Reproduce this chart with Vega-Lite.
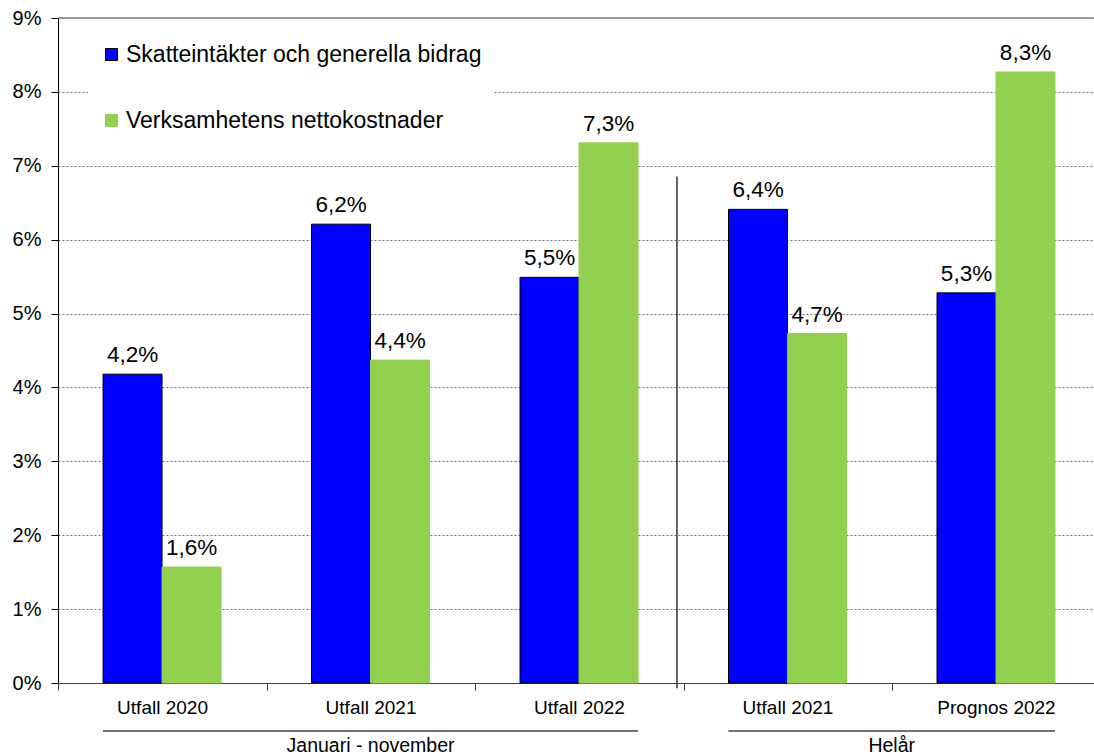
{
  "$schema": "https://vega.github.io/schema/vega-lite/v6.json",
  "width": 1036,
  "height": 665,
  "autosize": {"type": "none"},
  "padding": {"left": 58, "top": 18, "right": 0, "bottom": 73},
  "background": "white",
  "config": {"view": {"stroke": null}, "font": "Liberation Sans"},
  "datasets": {
    "bars": [
      {"cat": "Utfall 2020|jn", "series": "Skatteintäkter och generella bidrag", "value": 4.18, "label": "4,2%"},
      {"cat": "Utfall 2020|jn", "series": "Verksamhetens nettokostnader", "value": 1.57, "label": "1,6%"},
      {"cat": "Utfall 2021|jn", "series": "Skatteintäkter och generella bidrag", "value": 6.21, "label": "6,2%"},
      {"cat": "Utfall 2021|jn", "series": "Verksamhetens nettokostnader", "value": 4.37, "label": "4,4%"},
      {"cat": "Utfall 2022|jn", "series": "Skatteintäkter och generella bidrag", "value": 5.49, "label": "5,5%"},
      {"cat": "Utfall 2022|jn", "series": "Verksamhetens nettokostnader", "value": 7.31, "label": "7,3%"},
      {"cat": "Utfall 2021|h", "series": "Skatteintäkter och generella bidrag", "value": 6.41, "label": "6,4%"},
      {"cat": "Utfall 2021|h", "series": "Verksamhetens nettokostnader", "value": 4.73, "label": "4,7%"},
      {"cat": "Prognos 2022|h", "series": "Skatteintäkter och generella bidrag", "value": 5.28, "label": "5,3%"},
      {"cat": "Prognos 2022|h", "series": "Verksamhetens nettokostnader", "value": 8.27, "label": "8,3%"}
    ],
    "groups": [
      {"group": "Januari - november", "from": "Utfall 2020|jn", "to": "Utfall 2022|jn"},
      {"group": "Helår", "from": "Utfall 2021|h", "to": "Prognos 2022|h"}
    ],
    "sep": [{"at": "Utfall 2022|jn"}]
  },
  "layer": [
    {
      "data": {"name": "bars"},
      "mark": {"type": "bar", "strokeWidth": 1},
      "encoding": {
        "x": {
          "field": "cat", "type": "nominal",
          "scale": {
            "domain": ["Utfall 2020|jn", "Utfall 2021|jn", "Utfall 2022|jn", "Utfall 2021|h", "Prognos 2022|h"],
            "paddingInner": 0.434, "paddingOuter": 0.2015, "align": 0.536, "round": false
          },
          "axis": {
            "title": null, "labelExpr": "split(datum.label, '|')[0]", "labelAngle": 0,
            "tickOffset": -104, "labelOffset": 104, "tickSize": 7, "domainColor": "#404040", "tickColor": "#404040",
            "labelFontSize": 19, "labelColor": "black", "labelPadding": 8, "grid": false,
            "labelFont": "Liberation Sans"
          }
        },
        "xOffset": {
          "field": "series", "type": "nominal",
          "scale": {"domain": ["Skatteintäkter och generella bidrag", "Verksamhetens nettokostnader"], "paddingInner": 0, "paddingOuter": 0}
        },
        "y": {
          "field": "value", "type": "quantitative",
          "scale": {"domain": [0, 9], "nice": false, "zero": true},
          "axis": {
            "values": [0, 1, 2, 3, 4, 5, 6, 7, 8, 9], "labelExpr": "datum.value + '%'", "title": null,
            "grid": true, "gridDash": [2, 2], "gridColor": "#707070", "domainColor": "black",
            "tickColor": "black", "tickSize": 7, "labelFontSize": 20, "labelColor": "black",
            "labelPadding": 10, "labelFont": "Liberation Sans"
          }
        },
        "color": {
          "field": "series", "type": "nominal",
          "scale": {"domain": ["Skatteintäkter och generella bidrag", "Verksamhetens nettokostnader"], "range": ["#0000FF", "#92D050"]},
          "legend": {
            "title": null, "orient": "none", "legendX": 30, "legendY": 13, "fillColor": "white",
            "padding": 12, "labelFontSize": 23, "labelColor": "black", "labelFont": "Liberation Sans",
            "symbolType": "square", "symbolSize": 144, "rowPadding": 42, "labelOffset": 3,
            "symbolStrokeWidth": 1, "labelLimit": 0
          }
        },
        "stroke": {
          "field": "series", "type": "nominal",
          "scale": {"domain": ["Skatteintäkter och generella bidrag", "Verksamhetens nettokostnader"], "range": ["#000000", "#92D050"]},
          "legend": {
            "title": null, "orient": "none", "legendX": 30, "legendY": 13, "fillColor": "white",
            "padding": 12, "labelFontSize": 23, "labelColor": "black", "labelFont": "Liberation Sans",
            "symbolType": "square", "symbolSize": 144, "rowPadding": 42, "labelOffset": 3,
            "symbolStrokeWidth": 1, "labelLimit": 0
          }
        }
      }
    },
    {
      "data": {"values": [{}]},
      "mark": {"type": "rule", "color": "#808080", "strokeWidth": 1.5},
      "encoding": {"y": {"datum": 9, "type": "quantitative"}}
    },
    {
      "data": {"name": "bars"},
      "mark": {"type": "text", "fontSize": 22.5, "dy": -12, "baseline": "alphabetic", "color": "black", "font": "Liberation Sans"},
      "encoding": {
        "x": {"field": "cat", "type": "nominal"},
        "xOffset": {"field": "series", "type": "nominal"},
        "y": {"field": "value", "type": "quantitative"},
        "text": {"field": "label"}
      }
    },
    {
      "data": {"name": "sep"},
      "mark": {"type": "rule", "color": "#333333", "strokeWidth": 1.5},
      "encoding": {
        "x": {"field": "at", "type": "nominal", "bandPosition": 1.33},
        "y": {"datum": -0.07, "type": "quantitative"},
        "y2": {"datum": 6.85}
      }
    },
    {
      "data": {"name": "groups"},
      "mark": {"type": "rule", "color": "#404040", "strokeWidth": 1.5},
      "encoding": {
        "x": {"field": "from", "type": "nominal", "bandPosition": 0},
        "x2": {"field": "to", "bandPosition": 1},
        "y": {"datum": -0.65, "type": "quantitative"}
      }
    },
    {
      "data": {"values": [{"group": "Januari - november", "at": "Utfall 2021|jn"}]},
      "mark": {"type": "text", "fontSize": 19.5, "baseline": "alphabetic", "color": "black", "font": "Liberation Sans"},
      "encoding": {
        "x": {"field": "at", "type": "nominal", "bandPosition": 0.5},
        "y": {"datum": -0.93, "type": "quantitative"},
        "text": {"field": "group"}
      }
    },
    {
      "data": {"values": [{"group": "Helår", "at": "Utfall 2021|h"}]},
      "mark": {"type": "text", "fontSize": 19.5, "baseline": "alphabetic", "color": "black", "font": "Liberation Sans"},
      "encoding": {
        "x": {"field": "at", "type": "nominal", "bandPosition": 1.383},
        "y": {"datum": -0.93, "type": "quantitative"},
        "text": {"field": "group"}
      }
    }
  ]
}
